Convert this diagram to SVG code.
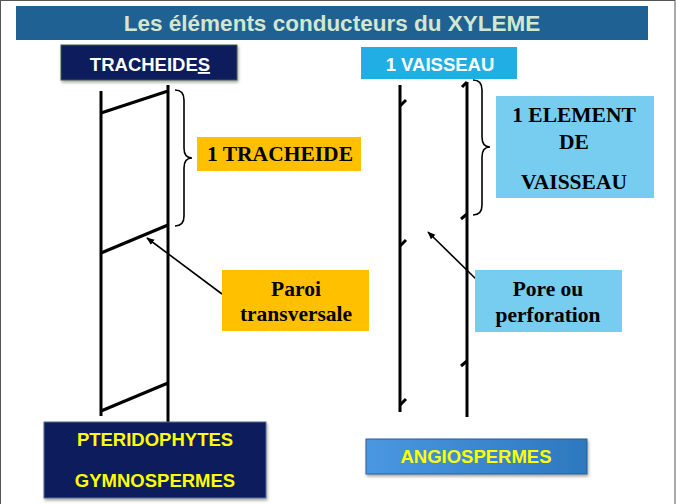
<svg xmlns="http://www.w3.org/2000/svg" width="677" height="504" viewBox="0 0 677 504">
<defs>
<style>
.ln{stroke:#000;stroke-width:3;fill:none;stroke-linecap:butt}
.br{stroke:#000;stroke-width:1.6;fill:none}
.ar{stroke:#000;stroke-width:1.6;fill:none}
.ser{font-family:"Liberation Serif","Times New Roman",serif;font-weight:bold;font-size:21.5px;fill:#000;text-anchor:middle}
.sans{font-family:"Liberation Sans",Arial,sans-serif;font-weight:bold;text-anchor:middle}
</style>
<marker id="ah" viewBox="0 0 10 10" refX="9" refY="5" markerWidth="8" markerHeight="8" orient="auto" markerUnits="userSpaceOnUse">
<path d="M0,1 L10,5 L0,9 z" fill="#000"/>
</marker>
<linearGradient id="ag" x1="0" y1="0" x2="1" y2="0">
<stop offset="0" stop-color="#4A97E2"/>
<stop offset="1" stop-color="#2D78BE"/>
</linearGradient>
<filter id="sh" x="-5%" y="-10%" width="110%" height="130%">
<feDropShadow dx="1" dy="2" stdDeviation="1.5" flood-color="#000" flood-opacity="0.35"/>
</filter>
</defs>
<rect x="0" y="0" width="677" height="504" fill="#fff"/>
<rect x="0.5" y="0.5" width="674.5" height="520" fill="none" stroke="#555" stroke-width="1"/>

<g id="title">
<rect x="16" y="6" width="632" height="34" fill="#1F6193"/>
<text x="332" y="31" class="sans" font-size="22.5" fill="#D3E6CF">Les éléments conducteurs du XYLEME</text>
</g>

<g id="tracheides-label">
<rect x="61" y="45" width="176" height="35" fill="#0B1E5B" stroke="#3D5A40" stroke-width="1" filter="url(#sh)"/>
<text x="150" y="71" class="sans" font-size="18.5" fill="#fff">TRACHEIDE<tspan text-decoration="underline">S</tspan></text>
</g>

<g id="vaisseau-label">
<rect x="361" y="47" width="156" height="32" fill="#20AEE5"/>
<text x="440" y="71" class="sans" font-size="18.5" fill="#fff">1 VAISSEAU</text>
</g>

<g id="tracheid-drawing">
<line class="ln" x1="101" y1="91" x2="101" y2="416"/>
<line class="ln" x1="168" y1="85" x2="168" y2="424"/>
<line class="ln" x1="101" y1="113" x2="168" y2="91"/>
<line class="ln" x1="101" y1="253" x2="168" y2="225"/>
<line class="ln" x1="101" y1="411" x2="168" y2="383"/>
<path class="br" d="M175,90 Q184,90 184,100 L184,148 Q184,158 192,158 Q184,158 184,168 L184,216 Q184,226 175,226"/>
</g>

<g id="vessel-drawing">
<line class="ln" x1="400" y1="85" x2="400" y2="412"/>
<line class="ln" x1="467" y1="82" x2="467" y2="417"/>
<path class="ln" d="M400,106 L406,100 M400,246 L406,240 M400,405 L406,399 M467,82 L462,87 M467,214 L461,219 M467,361 L461,366" stroke-width="2.5"/>
<path class="br" d="M473,80 Q482,80 482,90 L482,137 Q482,147 490,147 Q482,147 482,157 L482,205 Q482,215 473,215"/>
</g>

<g id="connectors">
<line class="ar" x1="222" y1="294" x2="147" y2="238" marker-end="url(#ah)"/>
<line class="ar" x1="479" y1="282" x2="428" y2="232" marker-end="url(#ah)"/>
</g>

<g id="tracheide-box">
<rect x="197" y="137" width="164" height="34" fill="#FFC000"/>
<text x="280" y="161" class="ser">1 TRACHEIDE</text>
</g>

<g id="paroi-box">
<rect x="222" y="270" width="147" height="61" fill="#FFC000"/>
<text x="296" y="296" class="ser">Paroi</text>
<text x="296" y="321" class="ser">transversale</text>
</g>

<g id="element-box">
<rect x="496" y="96" width="158" height="102" fill="#77CDEF"/>
<text x="574" y="122" class="ser">1 ELEMENT</text>
<text x="574" y="149" class="ser">DE</text>
<text x="574" y="189" class="ser">VAISSEAU</text>
</g>

<g id="pore-box">
<rect x="475" y="270" width="147" height="62" fill="#77CDEF"/>
<text x="548" y="296" class="ser">Pore ou</text>
<text x="548" y="322" class="ser">perforation</text>
</g>

<g id="pterido-box">
<rect x="44" y="422" width="222" height="76" fill="#0B1E5B" stroke="#5A6A8A" stroke-width="1" filter="url(#sh)"/>
<text x="155" y="446" class="sans" font-size="18.5" fill="#FFFF00">PTERIDOPHYTES</text>
<text x="155" y="487" class="sans" font-size="18.5" fill="#FFFF00">GYMNOSPERMES</text>
</g>

<g id="angio-box">
<rect x="366" y="439" width="221" height="35" fill="url(#ag)" stroke="#2A5F95" stroke-width="1" filter="url(#sh)"/>
<text x="476" y="463" class="sans" font-size="18.5" fill="#FFFF00">ANGIOSPERMES</text>
</g>
</svg>
